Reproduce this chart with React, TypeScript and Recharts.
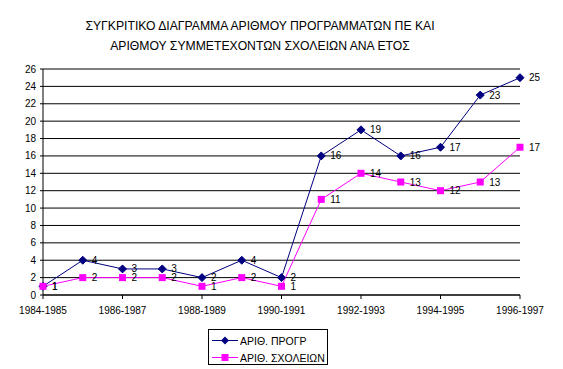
import React from 'react';
import { LineChart, Line, XAxis, YAxis, CartesianGrid, LabelList } from 'recharts';

const categories = ['1984-1985','1985-1986','1986-1987','1987-1988','1988-1989','1989-1990','1990-1991','1991-1992','1992-1993','1993-1994','1994-1995','1995-1996','1996-1997'];
const programs = [1, 4, 3, 3, 2, 4, 2, 16, 19, 16, 17, 23, 25];
const schools = [1, 2, 2, 2, 1, 2, 1, 11, 14, 13, 12, 13, 17];
const yTicks = [0, 2, 4, 6, 8, 10, 12, 14, 16, 18, 20, 22, 24, 26];
const titleLines = ['ΣΥΓΚΡΙΤΙΚΟ ΔΙΑΓΡΑΜΜΑ ΑΡΙΘΜΟΥ ΠΡΟΓΡΑΜΜΑΤΩΝ ΠΕ ΚΑΙ', 'ΑΡΙΘΜΟΥ ΣΥΜΜΕΤΕΧΟΝΤΩΝ ΣΧΟΛΕΙΩΝ ΑΝΑ ΕΤΟΣ'];
const seriesNames = ['ΑΡΙΘ. ΠΡΟΓΡ', 'ΑΡΙΘ. ΣΧΟΛΕΙΩΝ'];

const data = categories.map((c, i) => ({ cat: c, p: programs[i], s: schools[i] }));

const FONT = '"Liberation Sans", Arial, sans-serif';
const BLUE = '#000080';
const MAGENTA = '#FF00FF';

const Diamond = (props: any) => {
  const { cx, cy } = props;
  if (cx == null || cy == null) return null;
  return <path d={`M${cx},${cy - 4}L${cx + 4},${cy}L${cx},${cy + 4}L${cx - 4},${cy}Z`} fill={BLUE} stroke={BLUE} />;
};
const Square = (props: any) => {
  const { cx, cy } = props;
  if (cx == null || cy == null) return null;
  return <rect x={cx - 3.5} y={cy - 3.5} width={7} height={7} fill={MAGENTA} />;
};

const LegendBox = () => (
  <svg width={120} height={36} style={{ position: 'absolute', left: 208, top: 329, overflow: 'visible' }}>
    <rect x={0.5} y={0.5} width={119} height={35} fill="#fff" stroke="#000" />
    <line x1={4} y1={11.5} x2={30} y2={11.5} stroke={BLUE} />
    <path d="M17,7.5L21,11.5L17,15.5L13,11.5Z" fill={BLUE} />
    <line x1={4} y1={28.5} x2={30} y2={28.5} stroke={MAGENTA} />
    <rect x={13.5} y={25} width={7} height={7} fill={MAGENTA} />
    <text x={32} y={15.5} fontSize={10.5} fontFamily={FONT} fill="#000">{seriesNames[0]}</text>
    <text x={32} y={32.5} fontSize={10.5} fontFamily={FONT} fill="#000">{seriesNames[1]}</text>
  </svg>
);

export default function App() {
  return (
    <div style={{ position: 'absolute', left: 0, top: 0, width: 563, height: 369, background: '#fff' }}>
      <div style={{ position: 'absolute', left: 0, top: 16, width: 520, textAlign: 'center', fontFamily: FONT, fontSize: 12.2, lineHeight: '20px', color: '#000' }}>
        <div>{titleLines[0]}</div>
        <div>{titleLines[1]}</div>
      </div>
      <div style={{ position: 'absolute', left: 0, top: 0 }}>
        <LineChart width={563} height={369} data={data} margin={{ top: 69, right: 43, bottom: 54, left: 13 }} style={{ fontFamily: FONT }}>
          <CartesianGrid vertical={false} stroke="#000" strokeDasharray="" />
          <XAxis dataKey="cat" interval={1} tickSize={4} tickMargin={8} height={20} axisLine={{ stroke: '#000' }} tickLine={{ stroke: '#000' }} tick={{ fill: '#000', fontSize: 10, fontFamily: FONT }} padding={{ left: 0, right: 0 }} />
          <YAxis domain={[0, 26]} ticks={yTicks} interval={0} width={30} tickSize={3} tickMargin={4} axisLine={{ stroke: '#000' }} tickLine={{ stroke: '#000' }} tick={{ fill: '#000', fontSize: 10, fontFamily: FONT }} />
          <Line dataKey="p" name={seriesNames[0]} stroke={BLUE} strokeWidth={1} dot={<Diamond />} activeDot={false} isAnimationActive={false}>
            <LabelList dataKey="p" position="right" offset={9} fill="#000" fontSize={10} fontFamily={FONT} />
          </Line>
          <Line dataKey="s" name={seriesNames[1]} stroke={MAGENTA} strokeWidth={1} dot={<Square />} activeDot={false} isAnimationActive={false}>
            <LabelList dataKey="s" position="right" offset={9} fill="#000" fontSize={10} fontFamily={FONT} />
          </Line>
        </LineChart>
      </div>
      <LegendBox />
    </div>
  );
}
